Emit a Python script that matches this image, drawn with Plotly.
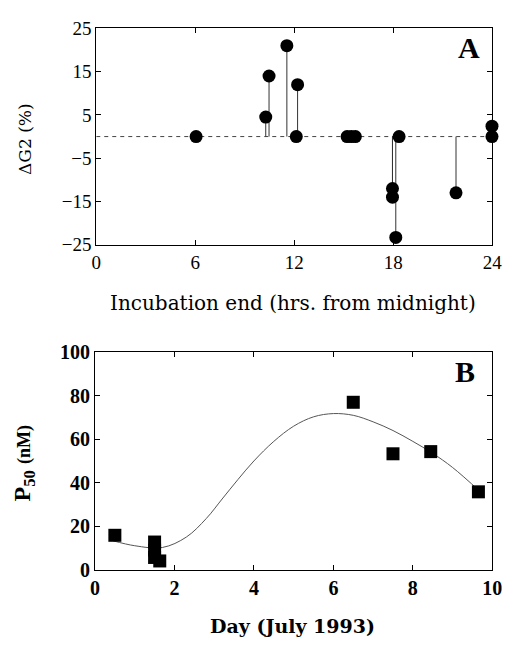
import plotly.graph_objects as go

# ---- Panel A data ----
hours = [6.05, 10.27, 10.47, 11.55, 12.12, 12.2, 15.2, 15.45, 15.7,
         17.95, 17.95, 18.15, 18.35, 21.8, 23.98, 23.98]
dG2 = [0, 4.5, 14, 21, 0, 12, 0, 0, 0,
       -12, -14, -23.3, 0, -13, 2.4, 0]
a_xticks = [0, 6, 12, 18, 24]
a_yticks = [-25, -15, -5, 5, 15, 25]

# ---- Panel B data ----
day = [0.5, 1.5, 1.5, 1.5, 1.63, 6.5, 7.5, 8.45, 9.65]
p50 = [15.8, 12.7, 9.0, 5.6, 4.0, 77.0, 53.3, 54.3, 35.8]
fit_day = [0.45, 1.0, 1.7, 2.3, 2.8, 3.2, 3.6, 4.0, 4.5, 5.0, 5.5, 6.0,
           6.5, 7.0, 7.5, 8.0, 8.5, 9.0, 9.7]
fit_p50 = [13.3, 11.0, 10.2, 15.0, 23.5, 32.5, 41.5, 50.0, 59.0, 66.0, 70.3,
           71.8, 71.0, 68.0, 64.0, 59.0, 53.5, 47.0, 35.8]
b_xticks = [0, 2, 4, 6, 8, 10]
b_yticks = [0, 20, 40, 60, 80, 100]

W, H = 513, 647
def px(x):
    return x / W
def py(y):
    return 1 - y / H

fig = go.Figure()

# stems from zero to each value
stem_x, stem_y = [], []
for h, v in zip(hours, dG2):
    stem_x += [h, h, None]
    stem_y += [0, v, None]
fig.add_trace(go.Scatter(x=stem_x, y=stem_y, mode="lines",
                         line=dict(color="#333", width=1),
                         xaxis="x", yaxis="y", showlegend=False,
                         hoverinfo="skip"))
fig.add_trace(go.Scatter(x=hours, y=dG2, mode="markers",
                         marker=dict(symbol="circle", size=13, color="black"),
                         cliponaxis=False, xaxis="x", yaxis="y",
                         showlegend=False))

# Panel B
fig.add_trace(go.Scatter(x=fit_day, y=fit_p50, mode="lines",
                         line=dict(color="#555", width=1, shape="spline",
                                   smoothing=1.0),
                         xaxis="x2", yaxis="y2", showlegend=False))
fig.add_trace(go.Scatter(x=day, y=p50, mode="markers",
                         marker=dict(symbol="square", size=13, color="black"),
                         cliponaxis=False, xaxis="x2", yaxis="y2",
                         showlegend=False))

# dashed zero reference line in panel A
fig.add_shape(type="line", xref="x", yref="y", x0=a_xticks[0], x1=a_xticks[-1],
              y0=0, y1=0, line=dict(color="#444", width=1, dash="4px,4px"),
              layer="below")

axis_common = dict(showline=True, linecolor="black", linewidth=1, mirror="ticks",
                   ticks="inside", ticklen=5, tickcolor="black", showgrid=False,
                   zeroline=False, ticklabeloverflow="allow")

fig.update_layout(
    width=W, height=H,
    margin=dict(l=0, r=0, t=0, b=0),
    paper_bgcolor="white", plot_bgcolor="white",
    xaxis=dict(domain=[px(94), px(502)], range=[0, 24], tickvals=a_xticks,
               anchor="y",
               tickfont=dict(family="Liberation Serif", size=19, color="black"),
               **axis_common),
    yaxis=dict(domain=[py(242), py(18)], range=[-25, 25], tickvals=a_yticks,
               ticktext=[("\u2212" + str(-t)) if t < 0 else str(t) for t in a_yticks],
               anchor="x",
               tickfont=dict(family="Liberation Serif", size=19, color="black"),
               **axis_common),
    xaxis2=dict(domain=[px(92.7), px(502)], range=[0, 10], tickvals=b_xticks,
                anchor="y2",
                tickfont=dict(family="Liberation Serif", size=20, color="black",
                              weight="bold"),
                **axis_common),
    yaxis2=dict(domain=[py(578.3), py(353.3)], range=[0, 100], tickvals=b_yticks,
                anchor="x2",
                tickfont=dict(family="Liberation Serif", size=20, color="black",
                              weight="bold"),
                **axis_common),
)

annots = [
    dict(text="Incubation end (hrs. from midnight)", x=px(297), y=py(302),
         font=dict(family="DejaVu Serif", size=20, color="black")),
    dict(text="\u0394G2 (%)", x=px(20), y=py(132), textangle=-90,
         font=dict(family="DejaVu Serif", size=17, color="black")),
    dict(text="A", x=px(477.5), y=py(38),
         font=dict(family="Liberation Serif", size=30, color="black", weight="bold")),
    dict(text="Day (July 1993)", x=px(296), y=py(637),
         font=dict(family="DejaVu Serif", size=19, color="black", weight="bold")),
    dict(text="P<sub>50</sub> <span style='font-size:18px'>(nM)</span>",
         x=px(20), y=py(468), textangle=-90,
         font=dict(family="Liberation Serif", size=24, color="black", weight="bold")),
    dict(text="B", x=px(474), y=py(373),
         font=dict(family="Liberation Serif", size=30, color="black", weight="bold")),
]
for a in annots:
    fig.add_annotation(xref="paper", yref="paper", showarrow=False,
                       xanchor="center", yanchor="middle", **a)

fig.write_html("out.html", config={"displayModeBar": False},
               post_script="document.body.style.margin='0';"
                           "document.documentElement.style.overflow='hidden';")
